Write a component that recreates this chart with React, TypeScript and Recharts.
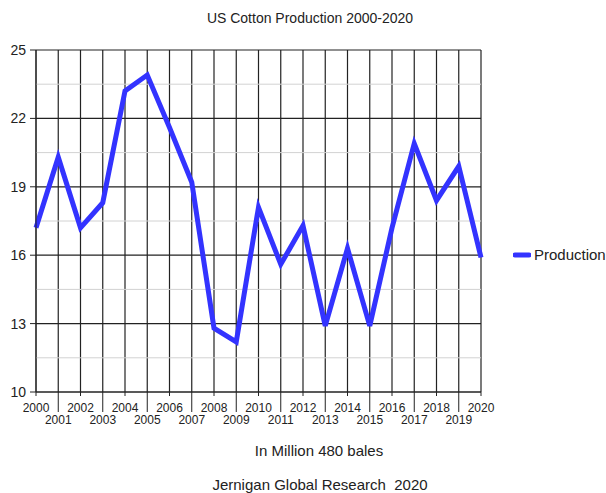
import React from "react";
import { LineChart, Line, XAxis, YAxis, CartesianGrid, ReferenceLine, Legend } from "recharts";

const years = [
  "2000", "2001", "2002", "2003", "2004", "2005", "2006", "2007", "2008", "2009", "2010",
  "2011", "2012", "2013", "2014", "2015", "2016", "2017", "2018", "2019", "2020",
];

// million 480-lb bales
const production = [
  17.2, 20.3, 17.2, 18.3, 23.2, 23.9, 21.6, 19.2, 12.8, 12.2, 18.1,
  15.6, 17.3, 12.9, 16.3, 12.9, 17.2, 20.9, 18.4, 19.9, 15.9,
];

const yTicks = [10, 13, 16, 19, 22, 25];
const yMinor = [11.5, 14.5, 17.5, 20.5, 23.5];

const data = years.map((year, i) => ({ year, Production: production[i] }));

const FONT = '"Liberation Sans", Arial, sans-serif';
const INK = "#222";
const GRID = "#222";
const BLUE = "#3333ff";

// even years sit on the first row with a short tick, odd years drop to a second row
function YearTick(props: any) {
  const { x, y, payload, index } = props;
  const odd = index % 2 === 1;
  return (
    <g>
      <line x1={x} x2={x} y1={y} y2={y + (odd ? 20 : 4)} stroke={GRID} />
      <text x={x} y={y + (odd ? 32 : 20)} textAnchor="middle" fontSize={12} fill={INK} fontFamily={FONT}>
        {payload.value}
      </text>
    </g>
  );
}

function LegendBox(props: any) {
  const items = props.payload || [];
  return (
    <div style={{ fontFamily: FONT, fontSize: 15, color: INK }}>
      {items.map((it: any) => (
        <div key={it.value} style={{ display: "flex", alignItems: "center", whiteSpace: "nowrap" }}>
          <svg width={18} height={10} style={{ marginRight: 3 }}>
            <line x1={2} x2={16} y1={5} y2={5} stroke={it.color} strokeWidth={5} strokeLinecap="round" />
          </svg>
          <span>{it.value}</span>
        </div>
      ))}
    </div>
  );
}

const textStyle: React.CSSProperties = {
  position: "absolute",
  transform: "translateX(-50%)",
  whiteSpace: "nowrap",
  fontFamily: FONT,
  color: INK,
  lineHeight: 1,
};

export default function App() {
  return (
    <div style={{ position: "absolute", left: 0, top: 0, width: 606, height: 493, background: "#fff" }}>
      <div style={{ ...textStyle, left: 310, top: 11, fontSize: 14 }}>US Cotton Production 2000-2020</div>
      <LineChart
        width={606}
        height={493}
        data={data}
        margin={{ top: 50, right: 125, bottom: 71, left: 0 }}
      >
        {yMinor.map((v) => (
          <ReferenceLine key={v} y={v} stroke="#d2d2d2" strokeWidth={1} />
        ))}
        <CartesianGrid stroke={GRID} strokeWidth={1.2} />
        <XAxis
          dataKey="year"
          interval={0}
          height={30}
          tickSize={0}
          tickMargin={0}
          tickLine={false}
          tick={<YearTick />}
          axisLine={{ stroke: GRID }}
        />
        <YAxis
          domain={[10, 25]}
          ticks={yTicks}
          width={36}
          tickSize={6}
          tickMargin={4}
          tickLine={{ stroke: GRID }}
          axisLine={{ stroke: GRID }}
          tick={{ fontSize: 14, fill: INK, fontFamily: FONT }}
        />
        <Legend
          layout="vertical"
          align="center"
          verticalAlign="middle"
          wrapperStyle={{ left: 513, top: 246, width: "auto" }}
          content={<LegendBox />}
        />
        <Line
          type="linear"
          dataKey="Production"
          stroke={BLUE}
          strokeWidth={5}
          dot={false}
          activeDot={false}
          isAnimationActive={false}
        />
      </LineChart>
      <div style={{ ...textStyle, left: 319, top: 443, fontSize: 15 }}>In Million 480 bales</div>
      <div style={{ ...textStyle, left: 320, top: 477, fontSize: 15 }}>Jernigan Global Research&nbsp;&nbsp;2020</div>
    </div>
  );
}
